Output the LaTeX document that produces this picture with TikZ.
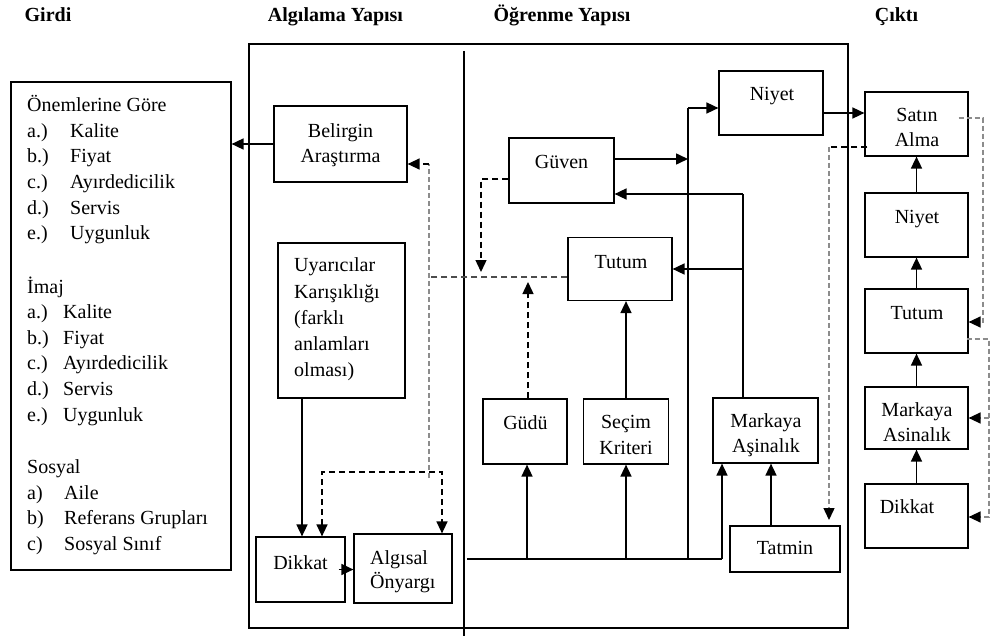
\documentclass[tikz,border=0pt]{standalone}
\usepackage{fontspec}
\setmainfont{Liberation Serif}
\usetikzlibrary{arrows.meta,calc}
\begin{document}
\begin{tikzpicture}[x=1pt,y=-1pt,
  box/.style={draw, line width=1.2pt, inner sep=0pt},
  txt/.style={inner sep=0pt, align=center, font=\fontsize{20}{25.6}\selectfont},
  head/.style={inner sep=0pt, anchor=base, font=\fontsize{20}{24}\selectfont\bfseries},
  arr/.style={line width=1.6pt, -{Triangle[length=12pt,width=11pt]}},
  ln/.style={line width=1.6pt},
  bdash/.style={line width=1.4pt, dash pattern=on 6pt off 4pt},
  gdash/.style={line width=1.4pt, draw=black!45, dash pattern=on 5pt off 3pt},
  tipb/.style={-{Triangle[length=12pt,width=11pt,color=black]}},
  tipbb/.style={{Triangle[length=12pt,width=11pt,color=black]}-{Triangle[length=12pt,width=11pt,color=black]}},
]
\useasboundingbox (0,0) rectangle (993,639);

% headers
\node[head] (hGirdi) at (48,22) {Girdi};
\node[head] (hAlg) at (335.5,22) {Algılama Yapısı};
\node[head] (hOgr) at (562,22) {Öğrenme Yapısı};
\node[head] (hCikti) at (896.5,22) {Çıktı};

% frames
\node[box, minimum width=220pt, minimum height=488pt] (liste) at (121,326) {};
\node[box, minimum width=599pt, minimum height=584pt] (outer) at (548.5,336) {};
\draw[line width=1.2pt] (464,51) coordinate (dvT) -- (464,636) coordinate (dvB);

% list
\node[txt, anchor=west, align=left] (g1) at (27,170.5) {\strut Önemlerine Göre\\
\makebox[43pt][l]{a.)}Kalite\\
\makebox[43pt][l]{b.)}Fiyat\\
\makebox[43pt][l]{c.)}Ayırdedicilik\\
\makebox[43pt][l]{d.)}Servis\\
\makebox[43pt][l]{e.)}Uygunluk\strut};
\node[txt, anchor=west, align=left] (g2) at (27,352) {\strut İmaj\\
\makebox[36pt][l]{a.)}Kalite\\
\makebox[36pt][l]{b.)}Fiyat\\
\makebox[36pt][l]{c.)}Ayırdedicilik\\
\makebox[36pt][l]{d.)}Servis\\
\makebox[36pt][l]{e.)}Uygunluk\strut};
\node[txt, anchor=west, align=left] (g3) at (27,507) {\strut Sosyal\\
\makebox[37pt][l]{a)}Aile\\
\makebox[37pt][l]{b)}Referans Grupları\\
\makebox[37pt][l]{c)}Sosyal Sınıf\strut};

% perception boxes
\node[box, minimum width=133pt, minimum height=76pt] (belirgin) at (340.5,144) {};
\node[txt] (tBel) at (340.5,145) {\strut Belirgin\\Araştırma\strut};
\node[box, minimum width=127pt, minimum height=155pt] (uyar) at (341.5,320.5) {};
\node[txt, anchor=west, align=left, font=\fontsize{20}{26.2}\selectfont] (tUy) at (294,319) {\strut Uyarıcılar\\Karışıklığı\\(farklı\\anlamları\\olması)\strut};
\node[box, minimum width=89pt, minimum height=65pt] (dikkat1) at (300.5,569.5) {};
\node[txt] (tDik1) at (300.5,564.5) {\strut Dikkat\strut};
\node[box, minimum width=98pt, minimum height=69pt] (algisal) at (403,568.5) {};
\node[txt, anchor=west, align=left, font=\fontsize{20}{24}\selectfont] (tAlg) at (370,571.5) {\strut Algısal\\Önyargı\strut};

% learning boxes
\node[box, minimum width=104pt, minimum height=64pt] (niyet1) at (771,103) {};
\node[txt] (tNiy1) at (772,95.5) {\strut Niyet\strut};
\node[box, minimum width=105pt, minimum height=65pt] (guven) at (561.5,170.5) {};
\node[txt] (tGuv) at (561.5,163.5) {\strut Güven\strut};
\node[box, minimum width=104pt, minimum height=63pt] (tutum1) at (620,269) {};
\node[txt] (tTut1) at (621,263.5) {\strut Tutum\strut};
\node[box, minimum width=84pt, minimum height=65pt] (gudu) at (525,431.5) {};
\node[txt] (tGud) at (525.5,424.5) {\strut Güdü\strut};
\node[box, minimum width=85pt, minimum height=65pt] (secim) at (626,431.5) {};
\node[txt] (tSec) at (626,436.5) {\strut Seçim\\Kriteri\strut};
\node[box, minimum width=105pt, minimum height=65pt] (markaya1) at (765.5,430.5) {};
\node[txt] (tMar1) at (766,435) {\strut Markaya\\Aşinalık\strut};
\node[box, minimum width=110pt, minimum height=46pt] (tatmin) at (785,549) {};
\node[txt] (tTat) at (785,549.5) {\strut Tatmin\strut};

% output boxes
\node[box, minimum width=103pt, minimum height=64pt] (satin) at (916.5,124) {};
\node[txt] (tSat) at (917,129) {\strut Satın\\Alma\strut};
\node[box, minimum width=103pt, minimum height=64pt] (niyet2) at (916.5,225) {};
\node[txt] (tNiy2) at (917,218.5) {\strut Niyet\strut};
\node[box, minimum width=103pt, minimum height=64pt] (tutum2) at (916.5,321) {};
\node[txt] (tTut2) at (917,314.5) {\strut Tutum\strut};
\node[box, minimum width=103pt, minimum height=62pt] (markaya2) at (916.5,418) {};
\node[txt] (tMar2) at (917,424) {\strut Markaya\\Asinalık\strut};
\node[box, minimum width=103pt, minimum height=64pt] (dikkat2) at (916.5,516) {};
\node[txt] (tDik2) at (907,508.5) {\strut Dikkat\strut};

% ---- connectors: perception
\draw[arr] (belirgin.west) -- (belirgin.west -| liste.east);
\coordinate (fbTop) at (429,164);
\coordinate (fbBot) at (429,478);
\draw[gdash] (fbBot) -- (fbTop);
\draw[bdash, tipb] (fbTop) -- (fbTop -| belirgin.east);
\coordinate (tuL) at (428,277);
\draw[bdash, draw=black!70] ([yshift=-8pt]tutum1.west) -- (tuL);
\coordinate (brL) at (322,472);
\coordinate (brR) at (442,472);
\draw[bdash, tipbb] (brL |- dikkat1.north) -- (brL) -- (brR) -- (brR |- algisal.north);
\draw[arr] ([xshift=-39.5pt]uyar.south) -- ([xshift=-39.5pt]uyar.south |- dikkat1.north);
\draw[arr] ([xshift=-7pt]dikkat1.east) -- (dikkat1.east -| algisal.west);

% ---- connectors: learning
\coordinate (gvL) at (481,179);
\coordinate (gvT) at (481,272);
\draw[bdash, tipb] ([yshift=-8.5pt]guven.west) -- (gvL) -- (gvT);
\coordinate (gdT) at (528,282);
\draw[bdash, tipb] (gdT |- gudu.north) -- (gdT);
\draw[arr] (secim.north) -- (secim.north |- tutum1.south);
\coordinate (busL) at (467,559);
\coordinate (busR) at (722,559);
\draw[ln] (busL) -- (busR);
\draw[arr] (busR) -- (busR |- markaya1.south);
\coordinate (b1) at (527,559);
\draw[arr] (b1) -- (b1 |- gudu.south);
\draw[arr] (secim.south |- busL) -- (secim.south);
\coordinate (vx) at (688,559);
\coordinate (vxT) at (688,108);
\draw[ln] (vx) -- (vxT);
\draw[arr] (vxT) -- (vxT -| niyet1.west);
\draw[arr] ([yshift=11.5pt]guven.east) -- ([yshift=11.5pt]guven.east -| vx);
\coordinate (rfT) at (743,194);
\draw[ln] (rfT |- markaya1.north) -- (rfT);
\draw[arr] (rfT) -- (rfT -| guven.east);
\draw[arr] (rfT |- tutum1.east) -- (tutum1.east);
\draw[arr] ([xshift=-14pt]tatmin.north) -- ([xshift=-14pt]tatmin.north |- markaya1.south);
\draw[arr] ([yshift=-10pt]niyet1.east) -- ([yshift=-10pt]niyet1.east -| satin.west);

% satin -> tatmin
\coordinate (stL) at (829,147);
\coordinate (stB) at (829,520);
\draw[bdash] ([xshift=3pt,yshift=-23pt]satin.west) -- (stL);
\draw[gdash, tipb] (stL) -- (stB);

% ---- output chain
\draw[arr] (dikkat2.north) -- (markaya2.south);
\draw[arr] (markaya2.north) -- (tutum2.south);
\draw[arr] (tutum2.north) -- (niyet2.south);
\draw[arr] (niyet2.north) -- (satin.south);

\coordinate (r1a) at (983,118);
\coordinate (r1b) at (983,322);
\draw[gdash, tipb] ([xshift=-10pt,yshift=6pt]satin.east) -- (r1a) -- (r1b) -- (r1b -| tutum2.east);
\coordinate (r2a) at (989,339);
\coordinate (r2b) at (989,517);
\draw[gdash, tipb] ([xshift=-2pt,yshift=-18pt]tutum2.east) -- (r2a) -- (r2b) -- (r2b -| dikkat2.east);
\draw[gdash, tipb] (r2a |- markaya2.east) -- (markaya2.east);
\end{tikzpicture}
\end{document}
